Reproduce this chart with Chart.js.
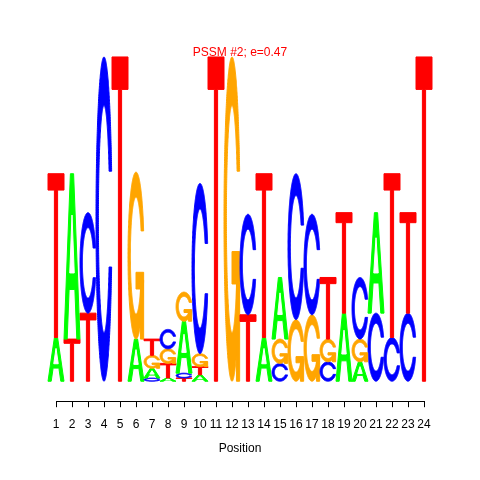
<!DOCTYPE html>
<html>
<head>
<meta charset="utf-8">
<script src="https://cdn.jsdelivr.net/npm/chart.js@4"></script>
<style>
  html, body { margin: 0; padding: 0; background: #fff; }
</style>
</head>
<body>
<canvas id="logo" width="480" height="480"></canvas>
<script>
// Posições do motivo
const positions = ['1','2','3','4','5','6','7','8','9','10','11','12','13','14','15','16','17','18','19','20','21','22','23','24'];

// Altura de cada letra (bits)
const heightA = [0.27,1.02,0,0,0,0.26,0.06,0.02,0.32,0.04,0,0,0,0.27,0.38,0,0,0,0.42,0.12,0.62,0,0,0];
const heightC = [0,0,0.62,2.0,0,0,0.02,0.12,0.03,1.05,0,0,0.62,0,0.11,0.90,0.62,0.12,0,0.38,0.42,0.27,0.42,0];
const heightG = [0,0,0,0,0,1.03,0.08,0.09,0.18,0.08,0,2.0,0,0,0.15,0.38,0.41,0.14,0,0.14,0,0,0,0];
const heightT = [1.01,0.26,0.42,0,2.0,0,0.10,0.09,0.02,0.05,2.0,0,0.41,1.01,0,0,0,0.38,0.62,0,0,1.01,0.62,2.0];

// Ordem de empilhamento (de baixo para cima) como aparece na figura
const stackOrder = ['AT','TA','TC','C','T','AG','CAGT','ATGC','TCAG','ATGC','T','G','TC','AT','CGA','GC','GC','CGT','AT','AGC','CA','CT','CT','T'];

const heights = { A: heightA, C: heightC, G: heightG, T: heightT };

// Formas das letras (polígonos no estilo seqLogo, coordenadas 0..1)
function seq(a, b, n) {
  const out = [];
  for (let i = 0; i < n; i++) out.push(a + (b - a) * i / (n - 1));
  return out;
}
function ringShape() {
  const a1 = seq(0.3 + Math.PI / 2, Math.PI, 100);
  const a2 = seq(Math.PI, 1.5 * Math.PI, 100);
  const xl1 = a1.map(a => 0.5 + 0.5 * Math.sin(a)), yl1 = a1.map(a => 0.5 + 0.5 * Math.cos(a));
  const xl2 = a2.map(a => 0.5 + 0.5 * Math.sin(a)), yl2 = a2.map(a => 0.5 + 0.5 * Math.cos(a));
  const xl = xl1.concat(xl2), yl = yl1.concat(yl2);
  const x = xl.concat(xl.slice().reverse());
  const y = yl.concat(yl.slice().reverse().map(v => 1 - v));
  const maxY = Math.max(...yl1);
  const xi1 = [], yi1 = [];
  a1.forEach(a => {
    const yy = 0.5 + 0.35 * Math.cos(a);
    if (yy <= maxY) { xi1.push(0.5 + 0.35 * Math.sin(a)); yi1.push(yy); }
  });
  yi1[0] = maxY;
  const xi2 = a2.map(a => 0.5 + 0.35 * Math.sin(a)), yi2 = a2.map(a => 0.5 + 0.35 * Math.cos(a));
  const xi = xi1.concat(xi2), yi = yi1.concat(yi2);
  const x1 = xi.concat(xi.slice().reverse());
  const y1 = yi.concat(yi.slice().reverse().map(v => 1 - v));
  const px = x.concat(x1.slice().reverse()), py = y.concat(y1.slice().reverse());
  return px.map((v, i) => [v, py[i]]);
}
const ring = ringShape();
const r1 = 0.5 + 0.5 * Math.sin(0.3 + Math.PI / 2);
const glyphs = {
  A: [
    { color: '#00FF00', pts: [[0,0],[0.4,1],[0.6,1],[1,0],[0.8,0],[0.68,0.3],[0.32,0.3],[0.2,0],[0,0]] },
    { color: '#FFFFFF', pts: [[0.36,0.4],[0.5,0.75],[0.64,0.4],[0.36,0.4]] }
  ],
  C: [{ color: '#0000FF', pts: ring }],
  G: [
    { color: '#FFA500', pts: ring },
    { color: '#FFA500', pts: [[r1,0.4],[0.5,0.4],[0.5,0.3],[r1-0.2,0.3],[r1-0.2,0],[r1,0],[r1,0.4]] }
  ],
  T: [{ color: '#FF0000', pts: [[0,1],[1,1],[1,0.9],[0.6,0.9],[0.6,0],[0.4,0],[0.4,0.9],[0,0.9]] }]
};

// Camadas da pilha: camada k recebe a k-ésima letra de cada posição
const layers = [0, 1, 2, 3].map(k => ({
  data: positions.map((p, i) => { const l = stackOrder[i][k]; return l ? heights[l][i] : 0; }),
  letters: positions.map((p, i) => stackOrder[i][k] || null),
  backgroundColor: 'rgba(0,0,0,0)',
  borderWidth: 0,
  barPercentage: 1,
  categoryPercentage: 1
}));

// Desenha as letras dentro de cada barra
const letterPlugin = {
  id: 'letters',
  afterDatasetsDraw(chart) {
    const ctx = chart.ctx;
    ctx.save();
    chart.data.datasets.forEach((ds, di) => {
      chart.getDatasetMeta(di).data.forEach((bar, i) => {
        const l = ds.letters[i];
        if (!l || !ds.data[i]) return;
        const left = bar.x - bar.width / 2, w = bar.width;
        const bottom = bar.base, h = bar.base - bar.y;
        glyphs[l].forEach(part => {
          ctx.beginPath();
          part.pts.forEach((pt, j) => {
            const px = left + pt[0] * w, py = bottom - pt[1] * h;
            if (j === 0) ctx.moveTo(px, py); else ctx.lineTo(px, py);
          });
          ctx.closePath();
          ctx.fillStyle = part.color;
          ctx.strokeStyle = part.color;
          ctx.lineWidth = 1;
          ctx.fill();
          ctx.stroke();
        });
      });
    });
    ctx.restore();
  },
  afterDraw(chart) {
    // linha do eixo só entre o primeiro e o último tick
    const xs = chart.scales.x;
    const ctx = chart.ctx;
    const y = Math.round(xs.top) + 0.5;
    ctx.save();
    ctx.strokeStyle = '#000';
    ctx.lineWidth = 1;
    ctx.beginPath();
    ctx.moveTo(Math.round(xs.getPixelForTick(0)) + 0.5, y);
    ctx.lineTo(Math.round(xs.getPixelForTick(positions.length - 1)) + 0.5, y);
    ctx.stroke();
    ctx.restore();
  }
};

Chart.defaults.font.family = '"Liberation Sans", Arial, Helvetica, sans-serif';

new Chart(document.getElementById('logo').getContext('2d'), {
  type: 'bar',
  data: { labels: positions, datasets: layers },
  options: {
    responsive: false,
    devicePixelRatio: 1,
    animation: false,
    layout: { padding: { left: 48, right: 48, top: 45, bottom: 24 } },
    plugins: {
      legend: { display: false },
      tooltip: { enabled: false },
      title: {
        display: true,
        text: 'PSSM #2; e=0.47',
        color: '#FF0000',
        font: { size: 12, weight: 'normal' },
        padding: { top: 0, bottom: 0 }
      }
    },
    scales: {
      x: {
        stacked: true,
        offset: true,
        border: { display: false },
        grid: { display: true, drawOnChartArea: false, drawTicks: true, tickLength: 6, offset: false, color: '#000' },
        ticks: { color: '#000', font: { size: 12 }, padding: 10, autoSkip: false, maxRotation: 0 },
        title: { display: true, text: 'Position', color: '#000', font: { size: 12 }, padding: { top: 0, bottom: 0 } }
      },
      y: {
        stacked: true,
        display: false,
        min: -0.123,
        max: 1.985
      }
    }
  },
  plugins: [letterPlugin]
});
</script>
</body>
</html>
